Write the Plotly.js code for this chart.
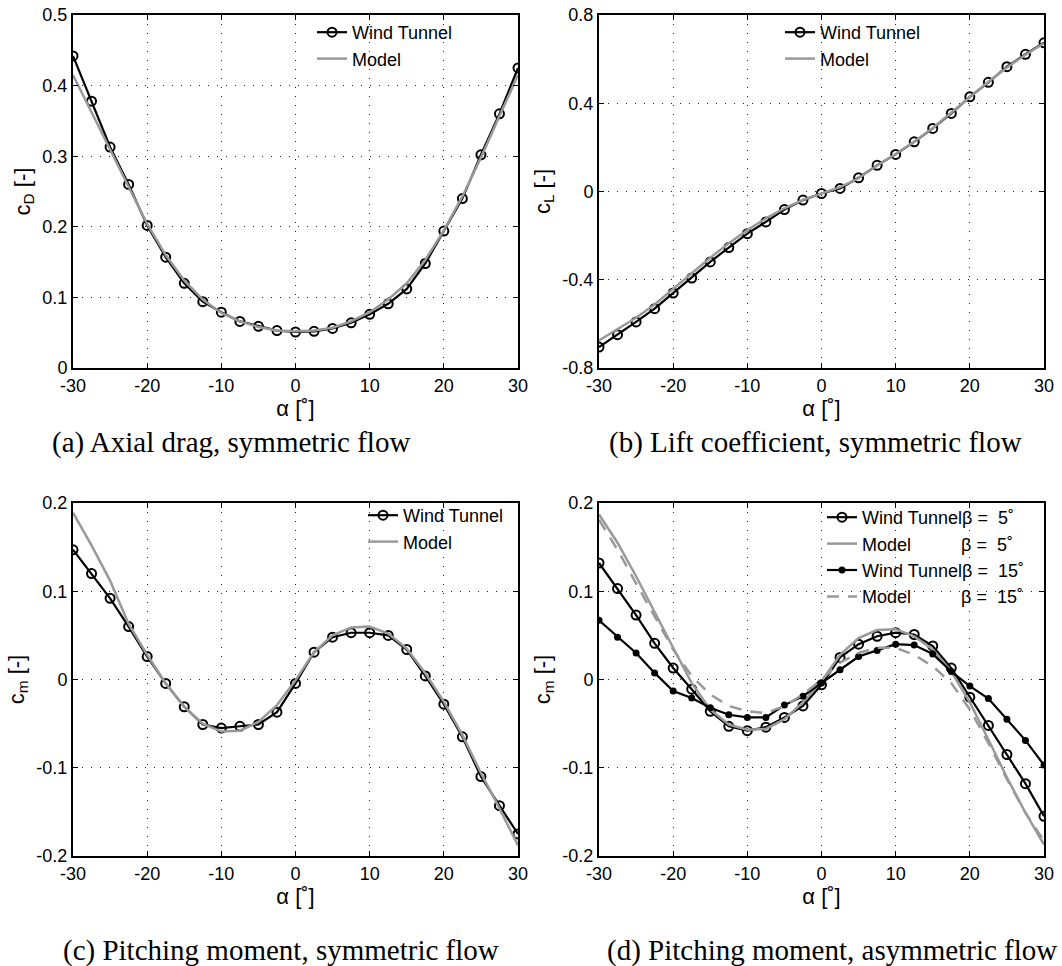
<!DOCTYPE html>
<html>
<head>
<meta charset="utf-8">
<script src="https://cdn.plot.ly/plotly-3.0.1.min.js"></script>
<style>
  html, body { margin: 0; padding: 0; background: #fff; }
  #chart { width: 1062px; height: 966px; }
</style>
</head>
<body>
<div id="chart"></div>
<script>
// ---------- data ----------
var alpha = [-30, -27.5, -25, -22.5, -20, -17.5, -15, -12.5, -10, -7.5, -5, -2.5, 0,
             2.5, 5, 7.5, 10, 12.5, 15, 17.5, 20, 22.5, 25, 27.5, 30];

var cD_windTunnel = [0.442, 0.378, 0.313, 0.260, 0.202, 0.157, 0.120, 0.094, 0.079, 0.066, 0.059, 0.053, 0.051,
                     0.052, 0.056, 0.064, 0.076, 0.091, 0.112, 0.148, 0.194, 0.240, 0.302, 0.360, 0.425];
var cD_model = [0.415, 0.362, 0.308, 0.255, 0.204, 0.160, 0.124, 0.097, 0.078, 0.066, 0.058, 0.053, 0.052,
                0.053, 0.057, 0.066, 0.079, 0.097, 0.120, 0.153, 0.195, 0.243, 0.298, 0.357, 0.415];

var cL_windTunnel = [-0.705, -0.649, -0.591, -0.531, -0.460, -0.392, -0.319, -0.254, -0.191, -0.138, -0.082, -0.039, -0.009,
                     0.014, 0.062, 0.119, 0.168, 0.225, 0.286, 0.354, 0.429, 0.495, 0.566, 0.622, 0.674];
var cL_model = [-0.675, -0.625, -0.572, -0.512, -0.440, -0.370, -0.300, -0.235, -0.175, -0.122, -0.076, -0.038, -0.010,
                0.020, 0.060, 0.118, 0.170, 0.226, 0.288, 0.357, 0.430, 0.497, 0.562, 0.620, 0.672];

var cm_windTunnel = [0.147, 0.120, 0.092, 0.060, 0.026, -0.0045, -0.031, -0.051, -0.055, -0.053, -0.051, -0.037, -0.0045,
                     0.031, 0.048, 0.053, 0.053, 0.050, 0.034, 0.004, -0.028, -0.065, -0.110, -0.143, -0.175];
var cm_model = [0.189, 0.152, 0.112, 0.063, 0.028, -0.0045, -0.031, -0.050, -0.059, -0.058, -0.048, -0.029, -0.001,
                0.031, 0.050, 0.059, 0.060, 0.052, 0.035, 0.007, -0.025, -0.063, -0.106, -0.146, -0.188];

var cm5_windTunnel = [0.132, 0.103, 0.073, 0.041, 0.013, -0.011, -0.036, -0.053, -0.058, -0.054, -0.043, -0.030, -0.006,
                      0.025, 0.040, 0.049, 0.053, 0.051, 0.038, 0.013, -0.020, -0.052, -0.085, -0.118, -0.155];
var cm5_model = [0.187, 0.155, 0.117, 0.076, 0.036, -0.004, -0.034, -0.051, -0.057, -0.056, -0.045, -0.026, -0.002,
                 0.028, 0.047, 0.056, 0.057, 0.049, 0.034, 0.009, -0.026, -0.068, -0.111, -0.151, -0.187];
var cm15_windTunnel = [0.067, 0.048, 0.030, 0.0075, -0.013, -0.021, -0.032, -0.040, -0.043, -0.043, -0.029, -0.019, -0.004,
                       0.011, 0.026, 0.033, 0.040, 0.039, 0.029, 0.009, -0.0075, -0.0215, -0.045, -0.069, -0.097];
var cm15_model = [0.181, 0.147, 0.109, 0.072, 0.034, 0.004, -0.017, -0.030, -0.036, -0.038, -0.030, -0.017, 0.000,
                  0.019, 0.030, 0.036, 0.036, 0.028, 0.015, -0.004, -0.034, -0.072, -0.113, -0.151, -0.183];

// tick labels
var xTickVals = [-30, -20, -10, 0, 10, 20, 30];
var xTickText = ["-30", "-20", "-10", "0", "10", "20", "30"];
var cDTickVals = [0, 0.1, 0.2, 0.3, 0.4, 0.5];
var cDTickText = ["0", "0.1", "0.2", "0.3", "0.4", "0.5"];
var cLTickVals = [-0.8, -0.4, 0, 0.4, 0.8];
var cLTickText = ["-0.8", "-0.4", "0", "0.4", "0.8"];
var cmTickVals = [-0.2, -0.1, 0, 0.1, 0.2];
var cmTickText = ["-0.2", "-0.1", "0", "0.1", "0.2"];

var captions = ["(a) Axial drag, symmetric flow", "(b) Lift coefficient, symmetric flow",
                "(c) Pitching moment, symmetric flow", "(d) Pitching moment, asymmetric flow"];

// ---------- styles ----------
var BLACK = "#000000";
var GREY = "#999999";
var SANS = "'Liberation Sans', Arial, Helvetica, sans-serif";
var SERIF = "'Liberation Serif', 'Times New Roman', serif";
var NB = "\u00a0";

function wtTrace(y, name, xa, ya, leg, filled) {
  return {
    x: alpha, y: y, name: name, type: "scatter", mode: "lines+markers",
    xaxis: xa, yaxis: ya, legend: leg,
    line: { color: BLACK, width: 2.2 },
    marker: filled ? { symbol: "circle", size: 7, color: BLACK }
                   : { symbol: "circle-open", size: 9, color: BLACK, line: { width: 2, color: BLACK } }
  };
}
function modelTrace(y, name, xa, ya, leg, dashed) {
  return {
    x: alpha, y: y, name: name, type: "scatter", mode: "lines",
    xaxis: xa, yaxis: ya, legend: leg,
    line: { color: GREY, width: 2.5, dash: dashed ? "12px,9px" : "solid" }
  };
}

var traces = [
  wtTrace(cD_windTunnel, "Wind Tunnel", "x", "y", "legend", false),
  modelTrace(cD_model, "Model", "x", "y", "legend", false),
  wtTrace(cL_windTunnel, "Wind Tunnel", "x2", "y2", "legend2", false),
  modelTrace(cL_model, "Model", "x2", "y2", "legend2", false),
  wtTrace(cm_windTunnel, "Wind Tunnel", "x3", "y3", "legend3", false),
  modelTrace(cm_model, "Model", "x3", "y3", "legend3", false),
  wtTrace(cm5_windTunnel, "Wind Tunnel\u03b2 =" + NB + NB + "5\u02da", "x4", "y4", "legend4", false),
  modelTrace(cm5_model, "Model" + NB.repeat(10) + "\u03b2 =" + NB + NB + "5\u02da", "x4", "y4", "legend4", false),
  wtTrace(cm15_windTunnel, "Wind Tunnel\u03b2 =" + NB + NB + "15\u02da", "x4", "y4", "legend4", true),
  modelTrace(cm15_model, "Model" + NB.repeat(10) + "\u03b2 =" + NB + NB + "15\u02da", "x4", "y4", "legend4", true)
];

function xAxis(domain, anchor) {
  return {
    domain: domain, anchor: anchor, range: [-30, 30],
    tickmode: "array", tickvals: xTickVals, ticktext: xTickText,
    ticks: "inside", ticklen: 5, tickwidth: 1, tickcolor: BLACK,
    showline: true, linewidth: 2, linecolor: BLACK, mirror: "ticks",
    showgrid: true, gridcolor: "#222222", gridwidth: 1, griddash: "1px,8px",
    zeroline: false,
    tickfont: { family: SANS, size: 18, color: BLACK },
    title: { text: "\u03b1 [\u02da]", font: { family: SANS, size: 22, color: BLACK }, standoff: 6 }
  };
}
function yAxis(domain, anchor, range, vals, text, title) {
  return {
    domain: domain, anchor: anchor, range: range,
    tickmode: "array", tickvals: vals, ticktext: text,
    ticks: "inside", ticklen: 5, tickwidth: 1, tickcolor: BLACK,
    showline: true, linewidth: 2, linecolor: BLACK, mirror: "ticks",
    showgrid: true, gridcolor: "#222222", gridwidth: 1, griddash: "1px,8px",
    zeroline: false,
    tickfont: { family: SANS, size: 18, color: BLACK },
    title: { text: title, font: { family: SANS, size: 22, color: BLACK }, standoff: 6 }
  };
}

var W = 1062, H = 966;
var colA = [73 / W, 518 / W], colB = [599 / W, 1044 / W];
var row1 = [(H - 368) / H, (H - 15) / H], row2 = [(H - 856) / H, (H - 503) / H];

function legendAt(xpx, ytop) {
  return {
    x: xpx / W, y: (H - ytop) / H, xanchor: "left", yanchor: "top",
    bgcolor: "rgba(0,0,0,0)", borderwidth: 0,
    font: { family: SANS, size: 18, color: BLACK }
  };
}

function caption(text, cx, cy) {
  return {
    text: text, xref: "paper", yref: "paper", x: cx / W, y: (H - cy) / H,
    xanchor: "center", yanchor: "middle", showarrow: false,
    font: { family: SERIF, size: 29, color: BLACK }
  };
}

var layout = {
  width: W, height: H,
  margin: { l: 0, r: 0, t: 0, b: 0 },
  paper_bgcolor: "#ffffff", plot_bgcolor: "#ffffff",
  showlegend: true,
  xaxis: xAxis(colA, "y"),
  yaxis: yAxis(row1, "x", [0, 0.5], cDTickVals, cDTickText, "c<sub>D</sub> [-]"),
  xaxis2: xAxis(colB, "y2"),
  yaxis2: yAxis(row1, "x2", [-0.8, 0.8], cLTickVals, cLTickText, "c<sub>L</sub> [-]"),
  xaxis3: xAxis(colA, "y3"),
  yaxis3: yAxis(row2, "x3", [-0.2, 0.2], cmTickVals, cmTickText, "c<sub>m</sub> [-]"),
  xaxis4: xAxis(colB, "y4"),
  yaxis4: yAxis(row2, "x4", [-0.2, 0.2], cmTickVals, cmTickText, "c<sub>m</sub> [-]"),
  legend: legendAt(312, 14),
  legend2: legendAt(780, 14),
  legend3: legendAt(363, 497),
  legend4: legendAt(822, 499),
  annotations: [
    caption(captions[0], 231, 443),
    caption(captions[1], 815, 443),
    caption(captions[2], 281, 950),
    caption(captions[3], 832, 950)
  ]
};

Plotly.newPlot("chart", traces, layout, { staticPlot: true, displayModeBar: false });
</script>
</body>
</html>
